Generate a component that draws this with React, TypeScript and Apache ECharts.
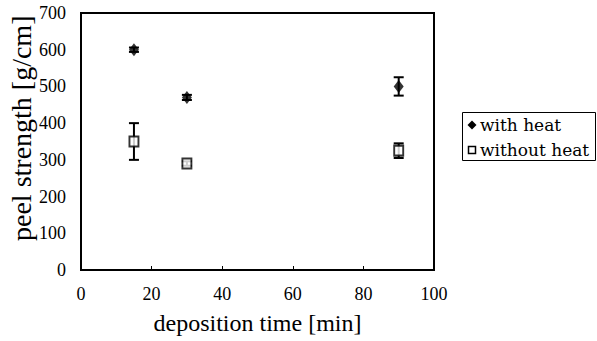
import React, { useEffect, useRef } from "react";
import * as echarts from "echarts";

const depositionTimes = [15, 30, 90];
const withHeat = [600, 470, 500];
const withHeatErr = [6, 7, 25];
const withoutHeat = [350, 290, 325];
const withoutHeatErr = [50, 6, 20];
const xTicks = [0, 20, 40, 60, 80, 100];
const yTicks = [0, 100, 200, 300, 400, 500, 600, 700];
const seriesNames = ["with heat", "without heat"];

const serif = "'Liberation Serif', 'DejaVu Serif', serif";
const legendFont = "'DejaVu Serif', serif";

function errorSeries(name: string, vals: number[], errs: number[]) {
  const data = depositionTimes.map((t, i) => [t, vals[i] - errs[i], vals[i] + errs[i]]);
  return {
    type: "custom",
    name: name + "-err",
    data,
    z: 1,
    renderItem: (params: any, api: any) => {
      const x = api.value(0);
      const lo = api.coord([x, api.value(1)]);
      const hi = api.coord([x, api.value(2)]);
      const hw = 5;
      const style = { stroke: "#000", lineWidth: 2 };
      return {
        type: "group",
        children: [
          { type: "line", shape: { x1: lo[0], y1: lo[1], x2: hi[0], y2: hi[1] }, style },
          { type: "line", shape: { x1: lo[0] - hw, y1: lo[1], x2: lo[0] + hw, y2: lo[1] }, style },
          { type: "line", shape: { x1: hi[0] - hw, y1: hi[1], x2: hi[0] + hw, y2: hi[1] }, style },
        ],
      };
    },
  };
}

export default function App() {
  const ref = useRef<HTMLDivElement>(null);
  useEffect(() => {
    if (!ref.current) return;
    const chart = echarts.init(ref.current, null, { renderer: "svg" });
    chart.setOption({
      animation: false,
      backgroundColor: "#fff",
      grid: {
        left: 81,
        top: 13,
        right: 163,
        bottom: 71,
        show: true,
        borderColor: "#000",
        borderWidth: 2,
      },
      xAxis: {
        type: "value",
        min: xTicks[0],
        max: xTicks[xTicks.length - 1],
        interval: 20,
        axisLine: { lineStyle: { color: "#000", width: 2 } },
        axisTick: { show: true, inside: true, length: 4, lineStyle: { color: "#000" } },
        splitLine: { show: false },
        axisLabel: { color: "#000", fontFamily: serif, fontSize: 18, margin: 15 },
        name: "deposition time [min]",
        nameLocation: "middle",
        nameGap: 41,
        nameTextStyle: { color: "#000", fontFamily: serif, fontSize: 24 },
      },
      yAxis: {
        type: "value",
        min: yTicks[0],
        max: yTicks[yTicks.length - 1],
        interval: 100,
        axisLine: { show: true, lineStyle: { color: "#000", width: 2 } },
        axisTick: { show: false },
        splitLine: { show: false },
        axisLabel: { color: "#000", fontFamily: serif, fontSize: 18, margin: 15 },
      },
      graphic: [
        {
          type: "text",
          x: 21,
          y: 241,
          rotation: Math.PI / 2,
          style: {
            text: "peel strength [g/cm]",
            fill: "#000",
            font: "28px " + serif,
            textAlign: "left",
            textVerticalAlign: "middle",
          },
        },
        {
          type: "group",
          x: 462,
          y: 112,
          children: [
            { type: "rect", shape: { x: 0.5, y: 0.5, width: 133, height: 48 }, style: { fill: "#fff", stroke: "#000", lineWidth: 1 } },
            { type: "polygon", shape: { points: [[10, 8.5], [14.5, 13], [10, 17.5], [5.5, 13]] }, style: { fill: "#000" } },
            { type: "text", x: 18, y: 13, style: { text: seriesNames[0], fill: "#000", font: "17px " + legendFont, textVerticalAlign: "middle" } },
            { type: "rect", shape: { x: 6.5, y: 34.5, width: 7, height: 7 }, style: { fill: "#fff", stroke: "#000", lineWidth: 1.5 } },
            { type: "text", x: 18, y: 38, style: { text: seriesNames[1], fill: "#000", font: "17px " + legendFont, textVerticalAlign: "middle" } },
          ],
        },
      ],
      series: [
        errorSeries(seriesNames[0], withHeat, withHeatErr),
        errorSeries(seriesNames[1], withoutHeat, withoutHeatErr),
        {
          type: "scatter",
          name: seriesNames[0],
          data: depositionTimes.map((t, i) => [t, withHeat[i]]),
          symbol: "diamond",
          symbolSize: [10, 13],
          itemStyle: { color: "#000" },
          z: 3,
        },
        {
          type: "scatter",
          name: seriesNames[1],
          data: depositionTimes.map((t, i) => [t, withoutHeat[i]]),
          symbol: "rect",
          symbolSize: [9, 10],
          itemStyle: { color: "#fff", borderColor: "#000", borderWidth: 2 },
          z: 3,
        },
      ],
    });
    return () => chart.dispose();
  }, []);
  return (
    <div
      ref={ref}
      style={{ position: "fixed", left: 0, top: 0, width: 597, height: 341, overflow: "hidden" }}
    />
  );
}
